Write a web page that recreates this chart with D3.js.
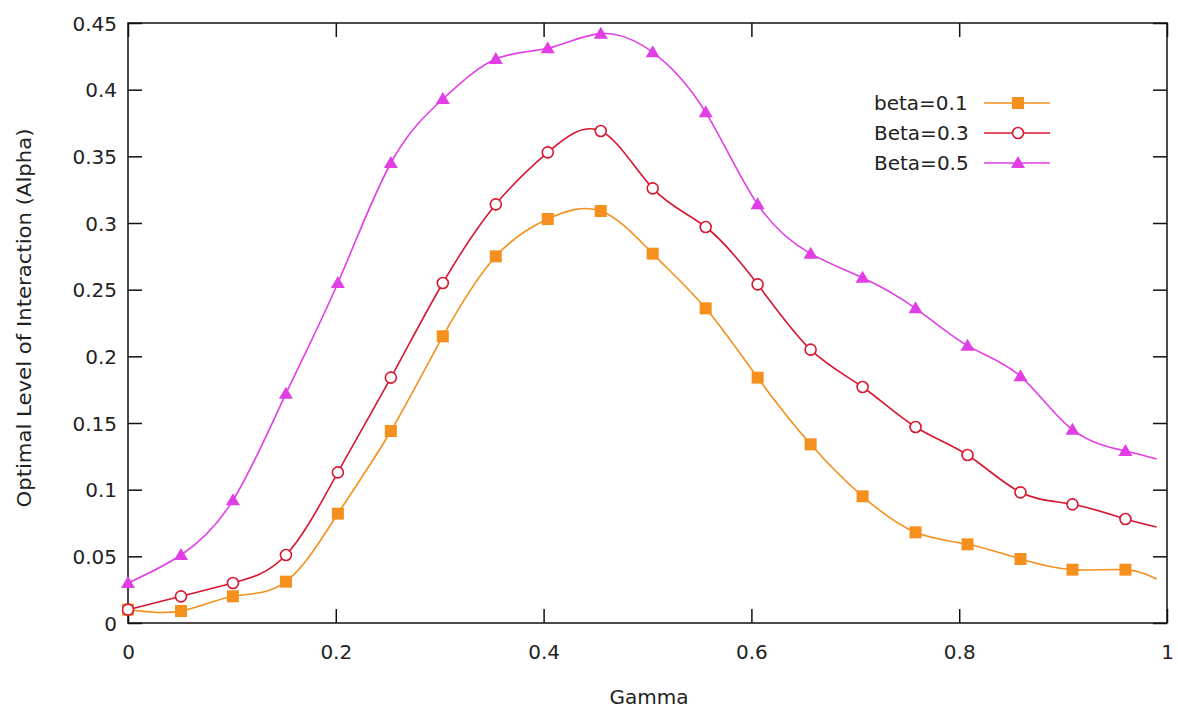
<!DOCTYPE html>
<html>
<head>
<meta charset="utf-8">
<script src="https://cdn.jsdelivr.net/npm/d3@7"></script>
<style>
  body { margin: 0; background: #fff; }
  text { font-family: "DejaVu Sans", sans-serif; fill: #222; }
</style>
</head>
<body>
<div id="wrapper"></div>
<script>
// data (last gamma value is where the smoothed curves end, no marker there)
const gamma = [0, 0.051, 0.101, 0.152, 0.202, 0.253, 0.303, 0.354, 0.404, 0.455,
               0.505, 0.556, 0.606, 0.657, 0.707, 0.758, 0.808, 0.859, 0.909, 0.96, 0.99];
const beta01 = [0.010, 0.009, 0.020, 0.031, 0.082, 0.144, 0.215, 0.275, 0.303, 0.309,
                0.277, 0.236, 0.184, 0.134, 0.095, 0.068, 0.059, 0.048, 0.040, 0.040, 0.033];
const beta03 = [0.010, 0.020, 0.030, 0.051, 0.113, 0.184, 0.255, 0.314, 0.353, 0.369,
                0.326, 0.297, 0.254, 0.205, 0.177, 0.147, 0.126, 0.098, 0.089, 0.078, 0.072];
const beta05 = [0.030, 0.051, 0.092, 0.172, 0.255, 0.345, 0.393, 0.423, 0.431, 0.442,
                0.428, 0.383, 0.314, 0.277, 0.259, 0.236, 0.208, 0.185, 0.145, 0.129, 0.123];
const seriesNames = ["beta=0.1", "Beta=0.3", "Beta=0.5"];
const xTicks = [0, 0.2, 0.4, 0.6, 0.8, 1];
const xTickLabels = ["0", "0.2", "0.4", "0.6", "0.8", "1"];
const yTicks = [0, 0.05, 0.1, 0.15, 0.2, 0.25, 0.3, 0.35, 0.4, 0.45];
const yTickLabels = ["0", "0.05", "0.1", "0.15", "0.2", "0.25", "0.3", "0.35", "0.4", "0.45"];
const markerCount = 20;

const series = [
    { name: seriesNames[0], values: beta01, color: "#f5901e", marker: "square" },
    { name: seriesNames[1], values: beta03, color: "#d81630", marker: "circle" },
    { name: seriesNames[2], values: beta05, color: "#e23ee6", marker: "triangle" }
];

const dimensions = {
    width: 1178,
    height: 713,
    margin: { top: 23, right: 11, bottom: 90, left: 128 }
};
dimensions.boundedWidth = dimensions.width - dimensions.margin.left - dimensions.margin.right;
dimensions.boundedHeight = dimensions.height - dimensions.margin.top - dimensions.margin.bottom;

const wrapper = d3.select("#wrapper")
    .append("svg")
    .attr("width", dimensions.width)
    .attr("height", dimensions.height);

const bounds = wrapper.append("g")
    .attr("transform", `translate(${dimensions.margin.left},${dimensions.margin.top})`);

const xScale = d3.scaleLinear()
    .domain([0, 1])
    .range([0, dimensions.boundedWidth]);

const yScale = d3.scaleLinear()
    .domain([0, 0.45])
    .range([dimensions.boundedHeight, 0]);

// ticks (gnuplot style: inward, mirrored)
const tickLen = 14;
const tickFont = "20px";

const xAxis = bounds.append("g")
    .attr("transform", `translate(0,${dimensions.boundedHeight})`)
    .call(d3.axisBottom(xScale).tickValues(xTicks).tickSize(-tickLen).tickPadding(22)
        .tickFormat((d, i) => xTickLabels[i]));
const xAxisTop = bounds.append("g")
    .call(d3.axisTop(xScale).tickValues(xTicks).tickSize(-tickLen).tickFormat(""));
const yAxis = bounds.append("g")
    .call(d3.axisLeft(yScale).tickValues(yTicks).tickSize(-tickLen).tickPadding(11)
        .tickFormat((d, i) => yTickLabels[i]));
const yAxisRight = bounds.append("g")
    .attr("transform", `translate(${dimensions.boundedWidth},0)`)
    .call(d3.axisRight(yScale).tickValues(yTicks).tickSize(-tickLen).tickFormat(""));

[xAxis, xAxisTop, yAxis, yAxisRight].forEach(a => {
    a.select(".domain").remove();
    a.selectAll(".tick line").attr("stroke", "#111").attr("stroke-width", 1.5);
    a.selectAll(".tick text").style("font-size", tickFont).attr("fill", "#222");
});
yAxis.selectAll(".tick text").attr("dy", "0.35em");

bounds.append("rect")
    .attr("width", dimensions.boundedWidth)
    .attr("height", dimensions.boundedHeight)
    .attr("fill", "none")
    .attr("stroke", "#111")
    .attr("stroke-width", 1.5);

// lines
const lineGenerator = d3.line()
    .x((d, i) => xScale(gamma[i]))
    .y(d => yScale(d))
    .curve(d3.curveNatural);

function drawMarker(g, s, x, y) {
    if (s.marker === "square") {
        g.append("rect")
            .attr("x", x - 6).attr("y", y - 6)
            .attr("width", 12).attr("height", 12)
            .attr("fill", s.color);
    } else if (s.marker === "circle") {
        g.append("circle")
            .attr("cx", x).attr("cy", y).attr("r", 5.5)
            .attr("fill", "#fff")
            .attr("stroke", s.color)
            .attr("stroke-width", 1.6);
    } else {
        g.append("path")
            .attr("d", `M${x},${y - 7}L${x + 7},${y + 5}L${x - 7},${y + 5}Z`)
            .attr("fill", s.color);
    }
}

series.forEach(s => {
    bounds.append("path")
        .datum(s.values)
        .attr("fill", "none")
        .attr("stroke", s.color)
        .attr("stroke-width", 1.6)
        .attr("d", lineGenerator);

    const markers = bounds.append("g");
    s.values.slice(0, markerCount).forEach((v, i) => {
        drawMarker(markers, s, xScale(gamma[i]), yScale(v));
    });
});

// legend
const legend = bounds.append("g")
    .attr("transform", `translate(${874 - dimensions.margin.left},${103 - dimensions.margin.top})`);
series.forEach((s, i) => {
    const row = legend.append("g").attr("transform", `translate(0,${i * 30})`);
    row.append("text")
        .attr("x", 0)
        .attr("dy", "0.35em")
        .style("font-size", tickFont)
        .text(s.name);
    row.append("line")
        .attr("x1", 110).attr("x2", 176)
        .attr("stroke", s.color)
        .attr("stroke-width", 1.6);
    drawMarker(row, s, 144, 0);
});

// axis labels
wrapper.append("text")
    .attr("x", 649)
    .attr("y", 697)
    .attr("dy", "0.35em")
    .attr("text-anchor", "middle")
    .style("font-size", "20px")
    .text("Gamma");

wrapper.append("text")
    .attr("transform", `translate(24,318) rotate(-90)`)
    .attr("dy", "0.35em")
    .attr("text-anchor", "middle")
    .attr("textLength", 379)
    .attr("lengthAdjust", "spacingAndGlyphs")
    .style("font-size", "19px")
    .text("Optimal Level of Interaction (Alpha)");
</script>
</body>
</html>
